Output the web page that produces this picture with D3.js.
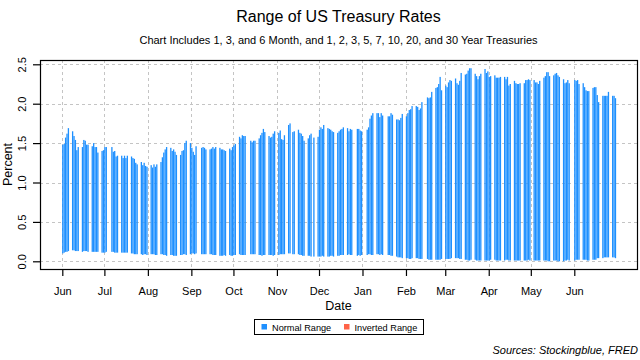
<!DOCTYPE html>
<html><head><meta charset="utf-8">
<script src="https://cdn.jsdelivr.net/npm/d3@7"></script>
<style>body{margin:0;background:#fff}svg{display:block}text{font-family:"Liberation Sans",Arial,Helvetica,sans-serif}</style>
</head><body>
<svg id="c" width="640" height="360"></svg>
<script>
const months = ["2020-06","2020-07","2020-08","2020-09","2020-10","2020-11","2020-12","2021-01","2021-02","2021-03","2021-04","2021-05","2021-06"];
const tradingDays = [
 [1,2,3,4,5,8,9,10,11,12,15,16,17,18,19,22,23,24,25,26,29,30],
 [1,2,6,7,8,9,10,13,14,15,16,17,20,21,22,23,24,27,28,29,30,31],
 [3,4,5,6,7,10,11,12,13,14,17,18,19,20,21,24,25,26,27,28,31],
 [1,2,3,4,8,9,10,11,14,15,16,17,18,21,22,23,24,25,28,29,30],
 [1,2,5,6,7,8,9,13,14,15,16,19,20,21,22,23,26,27,28,29,30],
 [2,3,4,5,6,9,10,12,13,16,17,18,19,20,23,24,25,27,30],
 [1,2,3,4,7,8,9,10,11,14,15,16,17,18,21,22,23,24,28,29,30,31],
 [4,5,6,7,8,11,12,13,14,15,19,20,21,22,25,26,27,28,29],
 [1,2,3,4,5,8,9,10,11,12,16,17,18,19,22,23,24,25,26],
 [1,2,3,4,5,8,9,10,11,12,15,16,17,18,19,22,23,24,25,26,29,30,31],
 [1,2,5,6,7,8,9,12,13,14,15,16,19,20,21,22,23,26,27,28,29,30],
 [3,4,5,6,7,10,11,12,13,14,17,18,19,20,21,24,25,26,27,28],
 [1,2,3,4,7,8,9,10,11,14,15,16,17,18,21,22,23,24,25,28,29,30]
];
// highest rate of the day (percent)
const highRates = [
 [1.48,1.49,1.57,1.62,1.69,1.65,1.59,1.54,1.41,1.45,1.45,1.54,1.53,1.48,1.48,1.46,1.50,1.45,1.45,1.38,1.40,1.41],
 [1.45,1.45,1.45,1.39,1.40,1.33,1.34,1.34,1.31,1.34,1.31,1.34,1.33,1.31,1.30,1.25,1.23,1.26,1.22,1.25,1.21,1.20],
 [1.22,1.19,1.23,1.20,1.23,1.26,1.32,1.38,1.42,1.45,1.44,1.40,1.42,1.39,1.35,1.35,1.40,1.41,1.50,1.53,1.50],
 [1.44,1.39,1.35,1.46,1.44,1.45,1.44,1.42,1.42,1.43,1.45,1.43,1.45,1.44,1.42,1.42,1.41,1.40,1.43,1.41,1.45],
 [1.47,1.49,1.58,1.56,1.60,1.59,1.59,1.53,1.51,1.53,1.53,1.56,1.60,1.63,1.68,1.64,1.59,1.57,1.58,1.62,1.65],
 [1.63,1.66,1.55,1.54,1.60,1.73,1.75,1.64,1.65,1.67,1.63,1.62,1.59,1.53,1.56,1.60,1.62,1.57,1.58],
 [1.67,1.70,1.68,1.73,1.69,1.68,1.67,1.65,1.64,1.63,1.65,1.67,1.68,1.70,1.69,1.65,1.68,1.67,1.68,1.68,1.66,1.65],
 [1.67,1.70,1.81,1.85,1.88,1.88,1.88,1.83,1.88,1.85,1.84,1.84,1.88,1.86,1.80,1.80,1.79,1.82,1.87],
 [1.84,1.88,1.92,1.93,1.97,1.97,1.96,1.92,1.94,2.02,2.08,2.07,2.08,2.15,2.20,2.21,2.25,2.34,2.17],
 [2.23,2.21,2.27,2.30,2.29,2.32,2.26,2.24,2.29,2.39,2.37,2.38,2.42,2.45,2.45,2.38,2.35,2.31,2.35,2.38,2.44,2.39,2.41],
 [2.34,2.35,2.36,2.33,2.33,2.33,2.34,2.34,2.31,2.34,2.23,2.25,2.29,2.26,2.25,2.25,2.26,2.26,2.30,2.30,2.31,2.30],
 [2.30,2.27,2.27,2.25,2.29,2.33,2.35,2.40,2.40,2.35,2.36,2.38,2.39,2.36,2.34,2.31,2.26,2.27,2.30,2.26],
 [2.30,2.29,2.30,2.25,2.26,2.21,2.17,2.16,2.16,2.20,2.21,2.21,2.11,2.02,2.10,2.10,2.10,2.10,2.15,2.10,2.10,2.07]
];
// lowest rate of the day (percent)
const lowRates = [
 [0.10,0.11,0.12,0.12,0.13,0.14,0.14,0.13,0.13,0.13,0.12,0.13,0.13,0.13,0.12,0.12,0.12,0.12,0.12,0.12,0.11,0.11],
 [0.11,0.12,0.12,0.12,0.11,0.11,0.11,0.11,0.11,0.11,0.11,0.11,0.10,0.10,0.09,0.09,0.09,0.09,0.08,0.09,0.09,0.08],
 [0.09,0.09,0.09,0.08,0.08,0.09,0.09,0.08,0.08,0.07,0.08,0.08,0.07,0.07,0.07,0.08,0.08,0.09,0.09,0.08,0.09],
 [0.10,0.10,0.09,0.10,0.09,0.09,0.09,0.09,0.09,0.09,0.08,0.08,0.08,0.07,0.07,0.07,0.08,0.07,0.08,0.07,0.07],
 [0.08,0.08,0.09,0.08,0.08,0.08,0.08,0.09,0.09,0.09,0.09,0.08,0.08,0.07,0.08,0.08,0.08,0.08,0.08,0.07,0.08],
 [0.08,0.09,0.09,0.09,0.09,0.10,0.10,0.09,0.09,0.09,0.08,0.08,0.07,0.07,0.07,0.07,0.06,0.06,0.06],
 [0.06,0.06,0.07,0.06,0.06,0.06,0.07,0.07,0.06,0.07,0.07,0.08,0.08,0.08,0.08,0.09,0.08,0.08,0.07,0.08,0.07,0.08],
 [0.08,0.09,0.09,0.08,0.08,0.09,0.09,0.08,0.09,0.08,0.08,0.08,0.07,0.07,0.06,0.05,0.05,0.05,0.04],
 [0.04,0.04,0.03,0.03,0.04,0.04,0.04,0.03,0.03,0.03,0.03,0.02,0.02,0.02,0.02,0.02,0.02,0.02,0.03],
 [0.03,0.03,0.03,0.03,0.04,0.04,0.04,0.04,0.03,0.03,0.02,0.02,0.01,0.01,0.02,0.02,0.01,0.01,0.01,0.01,0.01,0.01,0.01],
 [0.01,0.02,0.02,0.01,0.01,0.01,0.01,0.01,0.02,0.02,0.01,0.01,0.01,0.01,0.01,0.01,0.01,0.01,0.01,0.01,0.02,0.01],
 [0.01,0.01,0.01,0.01,0.01,0.01,0.01,0.01,0.00,0.00,0.01,0.01,0.01,0.00,0.00,0.00,0.01,0.01,0.02,0.01],
 [0.01,0.02,0.02,0.02,0.02,0.02,0.02,0.01,0.01,0.02,0.02,0.02,0.04,0.04,0.04,0.05,0.05,0.05,0.05,0.05,0.05,0.04]
];
const yTicks = [0, 0.5, 1.0, 1.5, 2.0, 2.5];
const monthTicks = ["2020-06-01","2020-07-01","2020-08-01","2020-09-01","2020-10-01","2020-11-01","2020-12-01","2021-01-01","2021-02-01","2021-03-01","2021-04-01","2021-05-01","2021-06-01"];
const legendItems = [{label:"Normal Range", color:"#1E90FF"},{label:"Inverted Range", color:"#FF6347"}];

const rows = [];
months.forEach((m, i) => {
  tradingDays[i].forEach((d, j) => {
    const hi = highRates[i][j], lo = lowRates[i][j];
    rows.push({date: new Date(m + "-" + String(d).padStart(2,"0") + "T00:00:00Z"), hi, lo, inverted: false});
  });
});

const svg = d3.select("#c");
const L = 40, R = 637, T = 60, B = 269;
const day = 864e5;
const t0 = Date.UTC(2020,5,1);
const x = d3.scaleUtc().domain([new Date(t0 - 15.9*day), new Date(t0 + 409.7*day)]).range([L, R]);
const y = d3.scaleLinear().domain([-0.0977, 2.5546]).range([B, T]);

// grid
const grid = svg.append("g").attr("stroke", "#c4c4c4").attr("stroke-dasharray", "3,3").attr("stroke-width", 1);
grid.selectAll("line.h").data(yTicks).join("line")
  .attr("x1", L).attr("x2", R).attr("y1", d => Math.round(y(d)) + 0.5).attr("y2", d => Math.round(y(d)) + 0.5);
grid.selectAll("line.v").data(monthTicks.map(s => new Date(s + "T00:00:00Z"))).join("line")
  .attr("y1", T).attr("y2", B).attr("x1", d => Math.round(x(d)) + 0.5).attr("x2", d => Math.round(x(d)) + 0.5);

// bars
const bw = 1.3;
svg.append("g").selectAll("rect").data(rows).join("rect")
  .attr("x", d => x(d.date) - bw/2 + 0.5)
  .attr("width", bw)
  .attr("y", d => y(d.hi))
  .attr("height", d => y(d.lo) - y(d.hi))
  .attr("fill", d => d.inverted ? legendItems[1].color : legendItems[0].color);

// box
svg.append("rect").attr("x", L + 0.5).attr("y", T + 0.5).attr("width", R - L).attr("height", B - T)
  .attr("fill", "none").attr("stroke", "#000").attr("stroke-width", 1.2);

// y axis
const ya = svg.append("g").attr("transform", `translate(${L},0)`)
  .call(d3.axisLeft(y).tickValues(yTicks).tickFormat(d3.format(".1f")).tickSize(7).tickSizeOuter(0));
ya.select(".domain").remove();
ya.selectAll(".tick line").attr("stroke", "#000").attr("stroke-width", 1.2);
ya.selectAll(".tick text").attr("x", null).attr("dy", null)
  .attr("transform", "translate(-14.5,0) rotate(-90)").attr("text-anchor", "middle")
  .attr("font-size", 11).attr("fill", "#000").style("font-family", '"Liberation Sans",Arial,sans-serif');

// x axis
const xa = svg.append("g").attr("transform", `translate(0,${B})`)
  .call(d3.axisBottom(x).tickValues(monthTicks.map(s => new Date(s + "T00:00:00Z"))).tickFormat(d3.utcFormat("%b")).tickSize(7).tickSizeOuter(0));
xa.select(".domain").remove();
xa.selectAll(".tick line").attr("stroke", "#000").attr("stroke-width", 1.2);
xa.selectAll(".tick text").attr("y", 26).attr("dy", null)
  .attr("font-size", 11).attr("fill", "#000").style("font-family", '"Liberation Sans",Arial,sans-serif');

// titles
const cx = (L + R) / 2;
svg.append("text").attr("x", cx).attr("y", 22).attr("text-anchor", "middle").attr("font-size", 16).text("Range of US Treasury Rates");
svg.append("text").attr("x", cx).attr("y", 44).attr("text-anchor", "middle").attr("font-size", 11).text("Chart Includes 1, 3, and 6 Month, and 1, 2, 3, 5, 7, 10, 20, and 30 Year Treasuries");
svg.append("text").attr("x", cx).attr("y", 310).attr("text-anchor", "middle").attr("font-size", 12.5).text("Date");
svg.append("text").attr("transform", `translate(11.5,${(T+B)/2}) rotate(-90)`).attr("text-anchor", "middle").attr("font-size", 12.5).text("Percent");

// legend
const lg = svg.append("g");
lg.append("rect").attr("x", 254.5).attr("y", 319.5).attr("width", 169).attr("height", 15).attr("fill", "#fff").attr("stroke", "#000").attr("stroke-width", 1);
const lx = [261.5, 344];
legendItems.forEach((it, i) => {
  lg.append("rect").attr("x", lx[i]).attr("y", 324).attr("width", 5.5).attr("height", 5.5).attr("fill", it.color);
  lg.append("text").attr("x", lx[i] + 10.5).attr("y", 330.5).attr("font-size", 9.2).text(it.label);
});

svg.append("text").attr("x", 638).attr("y", 354).attr("text-anchor", "end").attr("font-size", 11).attr("font-style", "italic").text("Sources: Stockingblue, FRED");
</script>
</body></html>
